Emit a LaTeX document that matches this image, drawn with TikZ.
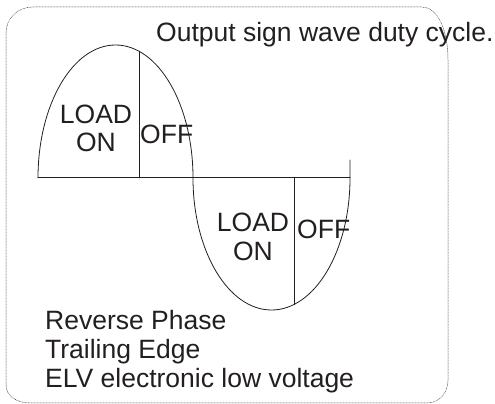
\documentclass[tikz,border=0pt]{standalone}
\usepackage{fontspec}
\setmainfont{Liberation Sans}
\definecolor{ink}{HTML}{231F20}
\begin{document}
\begin{tikzpicture}[x=1pt, y=1pt, line join=round, line cap=round,
	every node/.style={inner sep=0pt, text=ink, font=\fontsize{26.5}{29}\selectfont},
	wave/.style={line width=0.8pt, ink},
	frame/.style={densely dotted, line width=0.5pt, black!80}]
	\useasboundingbox (0,0) rectangle (495,404);
	\def\xa{38};\def\xb{193};\def\xc{350};\def\yo{226};\def\amp{133};
	\coordinate (O) at (\xa,\yo);
	% dotted frame
	\draw[frame] (6,371) .. controls (6,386) and (18,397) .. (33,397) -- (422,397)
		.. controls (437,397) and (448,375) .. (448,344) -- (448,24)
		.. controls (448,12) and (440,1) .. (427,1) -- (30,1)
		.. controls (17,1) and (6,8) .. (6,19) -- cycle;
	% axis and the two half waves
	\draw[line width=1pt, ink] (O) -- (\xc,\yo);
	\draw[wave] (O) arc[start angle=180, end angle=0, x radius=77.5, y radius=\amp]
		arc[start angle=180, end angle=360, x radius=78.5, y radius=132] -- ++(0,18);
	\draw[wave] (139,\yo) -- (139,352.8);
	\draw[wave] (294,\yo) -- (294,99.5);
	% labels
	\node[anchor=base west] (title) at (156,362) {Output sign wave duty cycle.};
	\node[anchor=base] (loadP) at (96,280.4) {LOAD};
	\node[anchor=base] (onP) at (96,252) {ON};
	\node[anchor=base west] (offP) at (140,260.4) {OFF};
	\node[anchor=base] (loadN) at (253,172.4) {LOAD};
	\node[anchor=base] (onN) at (253,143.4) {ON};
	\node[anchor=base west] (offN) at (297,165.4) {OFF};
	\foreach \t/\y [count=\i] in {Reverse Phase/74.4, Trailing Edge/45.4, ELV electronic low voltage/16.4}
		\node[anchor=base west] (note\i) at (45,\y) {\t};
\end{tikzpicture}
\end{document}
